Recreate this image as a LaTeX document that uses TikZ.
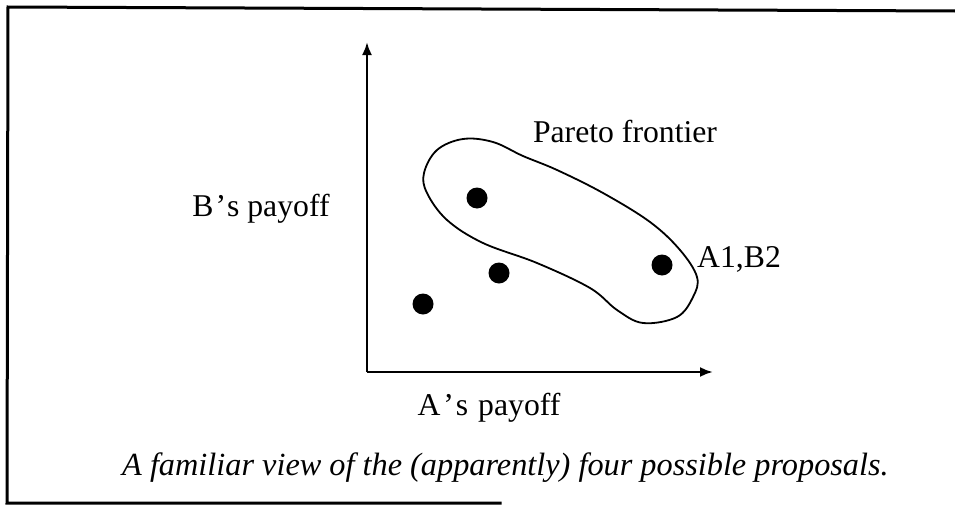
\documentclass[tikz,border=0pt]{standalone}
\usepackage{fontspec}
\setmainfont{Liberation Serif}
\usetikzlibrary{arrows.meta}
\tikzset{
  frameline/.style={line width=3pt, line cap=rect},
  axisline/.style={line width=2.4pt, -{Latex[length=13pt,width=10pt]}},
  blob/.style={line width=1.8pt},
  dot/.style={circle, fill=black, inner sep=0pt, minimum size=21pt},
  lbl/.style={font=\fontsize{31.7}{38}\selectfont, inner sep=0pt},
  captiontext/.style={font=\fontsize{32.3}{38}\selectfont\itshape, inner sep=0pt}
}
\begin{document}
\begin{tikzpicture}[x=1pt,y=-1pt]
\useasboundingbox (0,0) rectangle (955,506);
% frame (open on the right)
\coordinate (ftr) at (955,11);
\coordinate (ftl) at (8,7);
\coordinate (fbl) at (7,503);
\coordinate (fbr) at (500,503);
\draw[frameline] (ftr) -- (ftl) -- (fbl) -- (fbr);
% axes
\coordinate (O) at (367,372);
\coordinate (ytop) at (367,42);
\coordinate (xright) at (713,372);
\draw[axisline] (O) -- (ytop);
\draw[axisline] (O) -- (xright);
% Pareto blob
\draw[blob] plot[smooth cycle, tension=0.6] coordinates {
 (424,173) (437,150) (463,139) (493,142) (523,156) (557,170) (603,193)
 (650,222) (680,250) (697,277) (693,297) (677,317) (643,323) (617,310)
 (590,288) (537,263) (483,243) (447,220) (427,193)};
% dots
\node[dot] (p1) at (477,198) {};
\node[dot] (p2) at (499,273) {};
\node[dot] (p3) at (423,304) {};
\node[dot] (p4) at (662,265) {};
% labels
\node[lbl, anchor=base] (pf) at (625,142) {Pareto frontier};
\node[lbl, anchor=base] (by) at (261,216) {B\kern2pt’\kern1pt s payoff};
\node[lbl, anchor=base] (ax) at (489,415) {A\kern3pt’\kern2pt s\hspace{2pt} payoff};
\node[lbl, anchor=base west] (ab) at (697,267) {A1,B2};
\node[captiontext, anchor=base west] (caption) at (122,475) {A familiar view of the (apparently) four possible proposals.};
\end{tikzpicture}
\end{document}
